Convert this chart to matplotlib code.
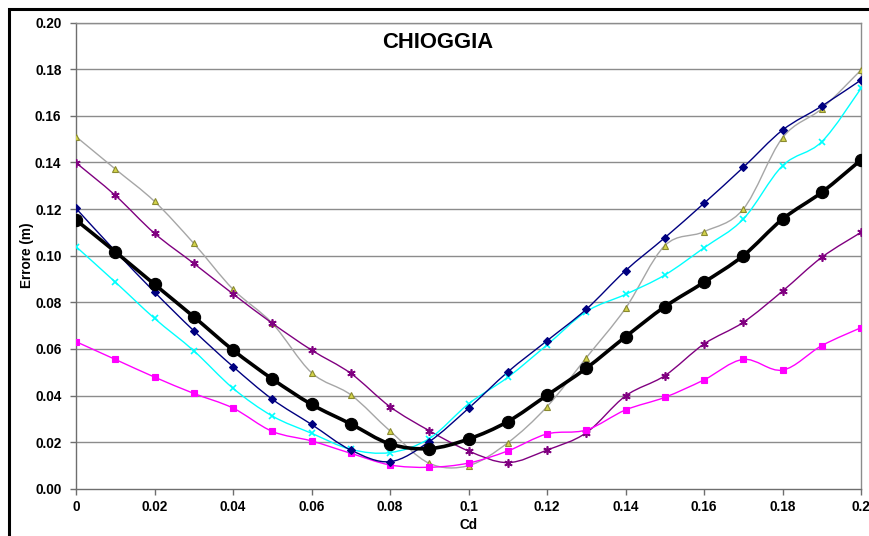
import numpy as np
import matplotlib
matplotlib.use("Agg")
import matplotlib.pyplot as plt
from matplotlib.path import Path
from matplotlib.patches import PathPatch, Rectangle

plt.rcParams['font.family'] = ['Liberation Sans', 'DejaVu Sans']

# Cd values and error curves (m)
cd = [0.00, 0.01, 0.02, 0.03, 0.04, 0.05, 0.06, 0.07, 0.08, 0.09, 0.10,
      0.11, 0.12, 0.13, 0.14, 0.15, 0.16, 0.17, 0.18, 0.19, 0.20]

err_navy = [0.1203, 0.1020, 0.0844, 0.0678, 0.0524, 0.0384, 0.0276, 0.0166,
            0.0116, 0.0202, 0.0345, 0.0501, 0.0635, 0.0770, 0.0936, 0.1077,
            0.1225, 0.1379, 0.1539, 0.1642, 0.1754]
err_magenta = [0.0631, 0.0555, 0.0479, 0.0409, 0.0346, 0.0246, 0.0205, 0.0152,
               0.0102, 0.0092, 0.0110, 0.0162, 0.0235, 0.0252, 0.0338, 0.0392,
               0.0467, 0.0555, 0.0509, 0.0614, 0.0691]
err_olive = [0.1511, 0.1372, 0.1233, 0.1053, 0.0856, 0.0710, 0.0498, 0.0403,
             0.0248, 0.0109, 0.0099, 0.0197, 0.0352, 0.0562, 0.0774, 0.1043,
             0.1103, 0.1200, 0.1506, 0.1631, 0.1797]
err_cyan = [0.1039, 0.0887, 0.0731, 0.0592, 0.0431, 0.0312, 0.0238, 0.0169,
            0.0155, 0.0215, 0.0364, 0.0478, 0.0617, 0.0760, 0.0834, 0.0917,
            0.1034, 0.1157, 0.1386, 0.1489, 0.1718]
err_purple = [0.1399, 0.1259, 0.1096, 0.0967, 0.0836, 0.0710, 0.0595, 0.0495,
              0.0352, 0.0249, 0.0162, 0.0112, 0.0166, 0.0240, 0.0398, 0.0485,
              0.0621, 0.0714, 0.0848, 0.0993, 0.1100]
err_mean = [0.1153, 0.1017, 0.0877, 0.0738, 0.0595, 0.0471, 0.0362, 0.0278,
            0.0192, 0.0172, 0.0213, 0.0288, 0.0401, 0.0517, 0.0652, 0.0781,
            0.0886, 0.1000, 0.1157, 0.1272, 0.1411]

x_ticks = [0.0, 0.02, 0.04, 0.06, 0.08, 0.10, 0.12, 0.14, 0.16, 0.18, 0.20]
x_labels = ["0", "0.02", "0.04", "0.06", "0.08", "0.1", "0.12", "0.14",
            "0.16", "0.18", "0.2"]
y_ticks = [0.00, 0.02, 0.04, 0.06, 0.08, 0.10, 0.12, 0.14, 0.16, 0.18, 0.20]
y_labels = ["%.2f" % v for v in y_ticks]


def smooth_path(xs, ys):
    """Cubic Bezier path through the points (Catmull-Rom style tangents)."""
    p = np.column_stack([xs, ys]).astype(float)
    n = len(p)
    verts = [p[0]]
    codes = [Path.MOVETO]
    for i in range(n - 1):
        p0 = p[i - 1] if i > 0 else p[i]
        p1 = p[i]
        p2 = p[i + 1]
        p3 = p[i + 2] if i + 2 < n else p[i + 1]
        c1 = p1 + (p2 - p0) / 6.0
        c2 = p2 - (p3 - p1) / 6.0
        verts += [c1, c2, p2]
        codes += [Path.CURVE4] * 3
    return Path(verts, codes)


def draw_series(ax, ys, color, lw, marker, ms, mfc, mec, mew=1.0, z=3):
    ax.add_patch(PathPatch(smooth_path(cd, ys), fill=False, edgecolor=color,
                           lw=lw, zorder=z, capstyle='round', joinstyle='round'))
    ax.plot(cd, ys, linestyle='none', marker=marker, markersize=ms,
            markerfacecolor=mfc, markeredgecolor=mec, markeredgewidth=mew,
            zorder=z + 0.5)


W, H = 869, 536
fig = plt.figure(figsize=(W / 100, H / 100), dpi=100)
ax = fig.add_axes([76 / W, (H - 488.7) / H, 785 / W, 466 / H])

# outer chart frame
fig.patches.append(Rectangle((8.5 / W, -0.1), 1.2, 1.1 - 9 / H,
                             transform=fig.transFigure, fill=False,
                             edgecolor='black', lw=2.2, zorder=0))

ax.set_xlim(0, 0.2)
ax.set_ylim(0, 0.2)

for yv in y_ticks[1:]:
    ax.axhline(yv, color='#8c8c8c', lw=1.0, zorder=1)

draw_series(ax, err_olive, '#a6a6a6', 1.0, '^', 5, '#d4d44a', '#8a8a30', 0.8)
draw_series(ax, err_purple, '#800080', 1.0, (6, 2, 0), 6, '#800080', '#800080', 1.2)
draw_series(ax, err_magenta, '#ff00ff', 1.0, 's', 5, '#ff00ff', '#ff00ff', 0.8)
draw_series(ax, err_cyan, '#00ffff', 1.0, 'x', 5, '#00ffff', '#00ffff', 1.2)
draw_series(ax, err_navy, '#000080', 1.0, 'D', 3.6, '#000080', '#000080', 0.8)
draw_series(ax, err_mean, '#000000', 2.6, 'o', 8.8, '#000000', '#000000', 0.8, z=5)

for side in ['top', 'right']:
    ax.spines[side].set_color('#8c8c8c')
    ax.spines[side].set_linewidth(1.0)
for side in ['left', 'bottom']:
    ax.spines[side].set_color('#6e6e6e')
    ax.spines[side].set_linewidth(1.0)

ax.set_xticks(x_ticks)
ax.set_xticklabels(x_labels, fontsize=9.8, fontweight='bold')
ax.set_yticks(y_ticks)
ax.set_yticklabels(y_labels, fontsize=9.8, fontweight='bold')
ax.tick_params(axis='both', direction='out', length=4, width=1.0,
               color='#6e6e6e')
ax.tick_params(axis='y', pad=6.5)
ax.tick_params(axis='x', pad=4)

ax.set_xlabel('Cd', fontsize=9.8, fontweight='bold', labelpad=3)
ax.set_ylabel('Errore (m)', fontsize=9.8, fontweight='bold', labelpad=1)

ax.text(0.461, 0.957, 'CHIOGGIA', transform=ax.transAxes, ha='center',
        va='center', fontsize=15.8, fontweight='bold')

fig.savefig('out.png', dpi=100)
